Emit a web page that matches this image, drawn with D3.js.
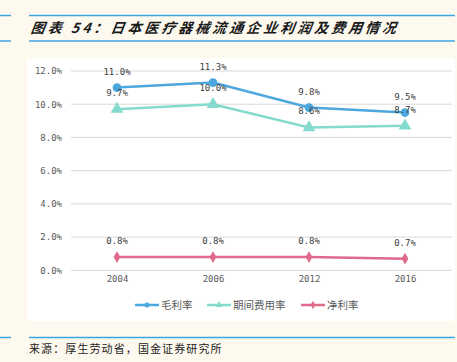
<!DOCTYPE html>
<html>
<head>
<meta charset="utf-8">
<script src="https://cdn.jsdelivr.net/npm/d3@7"></script>
<style>
  body { margin: 0; background: #fdf9ef; }
  svg { display: block; }
</style>
</head>
<body>
<div id="chart"></div>
<script>
// Chart data
var years = ["2004", "2006", "2012", "2016"];
var grossMargin = [11.0, 11.3, 9.8, 9.5];
var expenseRate = [9.7, 10.0, 8.6, 8.7];
var netMargin = [0.8, 0.8, 0.8, 0.7];
var seriesNames = ["毛利率", "期间费用率", "净利率"];
var yTicks = [0, 2, 4, 6, 8, 10, 12];

var w = 457, h = 362;
var colors = ["#4ba7dd", "#84dbcd", "#e06a8c"];
var monoFont = "'DejaVu Sans Mono', 'Liberation Mono', monospace";

var svg = d3.select("#chart").append("svg")
  .attr("width", w)
  .attr("height", h);

// Page background and header/footer rules
svg.append("rect").attr("width", w).attr("height", h).attr("fill", "#fdf9ef");
[15.5, 41, 337.5].forEach(function(y) {
  svg.append("line").attr("x1", 0).attr("x2", 11).attr("y1", y).attr("y2", y)
    .attr("stroke", "#3da6e0").attr("stroke-width", 1.5);
  svg.append("line").attr("x1", 29).attr("x2", 455).attr("y1", y).attr("y2", y)
    .attr("stroke", "#3da6e0").attr("stroke-width", 1.5);
});

// Title
svg.append("text")
  .attr("x", 31).attr("y", 33)
  .attr("font-family", "'Noto Sans CJK SC', sans-serif")
  .attr("font-size", 14).attr("font-weight", "bold").attr("font-style", "italic")
  .attr("letter-spacing", 3)
  .attr("fill", "#1a1a1a")
  .attr("transform", "skewX(-8) translate(4,0)")
  .text("图表 54：日本医疗器械流通企业利润及费用情况");

// Source
svg.append("text")
  .attr("x", 29).attr("y", 353)
  .attr("font-family", "'Noto Sans CJK SC', sans-serif")
  .attr("font-size", 11).attr("letter-spacing", 1.1)
  .attr("fill", "#222")
  .text("来源：厚生劳动省，国金证券研究所");

// White plot panel
svg.append("rect").attr("x", 27).attr("y", 58).attr("width", 428).attr("height", 263).attr("fill", "#fff");

// Scales
var xScale = d3.scalePoint().domain(years).range([69, 453]).padding(0.5);
var yScale = d3.scaleLinear().domain([0, 12]).range([270.3, 71]);

// Gridlines
svg.append("g").selectAll("line").data(yTicks).enter().append("line")
  .attr("x1", 71).attr("x2", 452)
  .attr("y1", function(d) { return yScale(d); })
  .attr("y2", function(d) { return yScale(d); })
  .attr("stroke", "#d9d9d9").attr("stroke-width", 1);

// Y axis
var yAxis = d3.axisLeft(yScale).tickValues(yTicks).tickSize(0).tickPadding(0)
  .tickFormat(function(d) { return d.toFixed(1) + "%"; });
var gy = svg.append("g").attr("transform", "translate(62,0)").call(yAxis);
gy.select(".domain").remove();
gy.selectAll("text").attr("font-family", monoFont).attr("font-size", 9).attr("fill", "#595959");

// X axis
var xAxis = d3.axisBottom(xScale).tickSize(0).tickPadding(0);
var gx = svg.append("g").attr("transform", "translate(0,276)").call(xAxis);
gx.select(".domain").remove();
gx.selectAll("text").attr("font-family", monoFont).attr("font-size", 9).attr("fill", "#595959");

// Series
var allSeries = [grossMargin, expenseRate, netMargin];
var symbols = [d3.symbolCircle, d3.symbolTriangle, d3.symbolDiamond];
var symbolSizes = [60, 70, 40];

var line = d3.line()
  .x(function(d, i) { return xScale(years[i]); })
  .y(function(d) { return yScale(d); });

allSeries.forEach(function(values, k) {
  svg.append("path").datum(values)
    .attr("d", line)
    .attr("fill", "none")
    .attr("stroke", colors[k])
    .attr("stroke-width", 2.5);

  svg.append("g").selectAll("path").data(values).enter().append("path")
    .attr("d", d3.symbol().type(symbols[k]).size(symbolSizes[k]))
    .attr("transform", function(d, i) { return "translate(" + xScale(years[i]) + "," + yScale(d) + ")"; })
    .attr("fill", colors[k]);

  svg.append("g").selectAll("text").data(values).enter().append("text")
    .attr("x", function(d, i) { return xScale(years[i]); })
    .attr("y", function(d) { return yScale(d) - 13; })
    .attr("text-anchor", "middle")
    .attr("font-family", monoFont).attr("font-size", 9)
    .attr("fill", "#404040")
    .text(function(d) { return d.toFixed(1) + "%"; });
});

// Legend
var legendX = [135, 207, 301];
var legend = svg.append("g").attr("transform", "translate(0,305)");
seriesNames.forEach(function(name, k) {
  var item = legend.append("g").attr("transform", "translate(" + legendX[k] + ",0)");
  item.append("line").attr("x1", 0).attr("x2", 24).attr("y1", 0).attr("y2", 0)
    .attr("stroke", colors[k]).attr("stroke-width", 2.5);
  item.append("path")
    .attr("d", d3.symbol().type(symbols[k]).size(20))
    .attr("transform", "translate(12,0)")
    .attr("fill", colors[k]);
  item.append("text").attr("x", 26).attr("y", 4)
    .attr("font-family", "'Noto Sans CJK SC', sans-serif")
    .attr("font-size", 10.5).attr("fill", "#595959")
    .text(name);
});
</script>
</body>
</html>
